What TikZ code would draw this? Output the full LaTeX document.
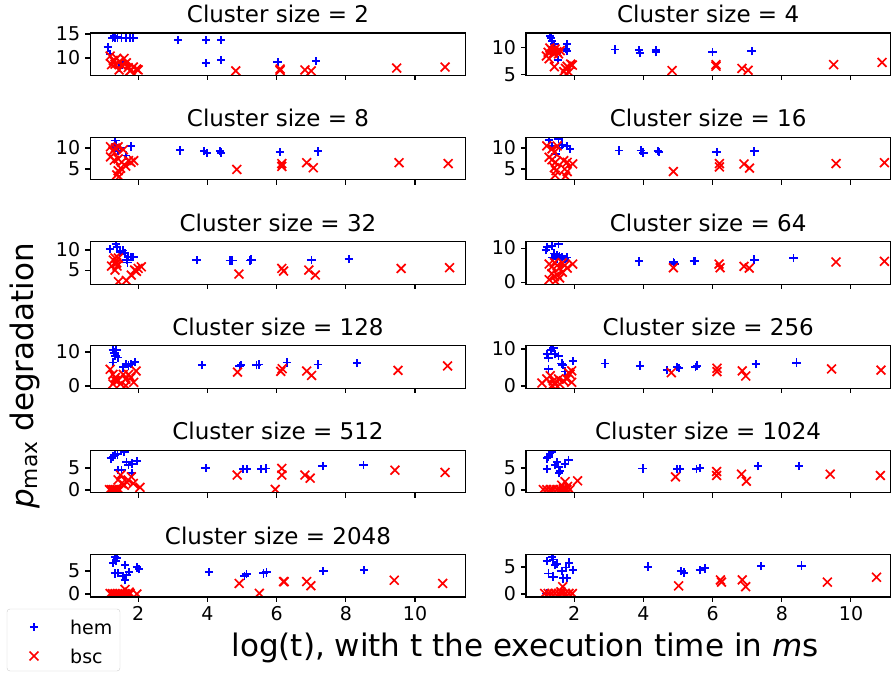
\documentclass[tikz,border=0pt]{standalone}
\usepackage{fontspec}
\setmainfont{DejaVu Sans}
\usetikzlibrary{positioning}
\definecolor{hemblue}{RGB}{0,0,255}
\definecolor{bscred}{RGB}{255,0,0}
\tikzset{
  frame/.style={line width=1.1pt, black},
  hemmark/.style={draw=hemblue, line width=1.8pt},
  bscmark/.style={draw=bscred, line width=1.7pt},
  ticklab/.style={font=\fontsize{19}{22}\selectfont, inner sep=0pt},
  paneltitle/.style={font=\fontsize{23}{26}\selectfont, anchor=base, inner sep=0pt},
  biglab/.style={font=\fontsize{31}{34}\selectfont, inner sep=0pt},
}
% one subplot: left px, top px, xmax, ymin, ymax, cluster size, y ticks, hem points, bsc points
\newcommand{\panel}[9]{%
  \pgfmathsetmacro{\ysc}{42.5/(#5-(#4))}
  \begin{scope}[shift={(#1,{672-#2-42.5})}, x=34.6pt, y=\ysc pt]
  \begin{scope}[shift={(-0.61,{-(#4)})}]
    \begin{scope}
      \clip (0.61,#4) rectangle (#3,#5);
      \path[hemmark] foreach \a/\b in {#8} {
        (\a,\b) +(-4.2pt,0) -- +(4.2pt,0) +(0,-4.2pt) -- +(0,4.2pt)};
      \path[bscmark] foreach \a/\b in {#9} {
        (\a,\b) +(-4.4pt,-4.4pt) -- +(4.4pt,4.4pt) +(-4.4pt,4.4pt) -- +(4.4pt,-4.4pt)};
    \end{scope}
    \draw[frame] (0.61,#4) rectangle (#3,#5);
    \foreach \t in {2,4,...,10} \draw[frame] (\t,#4) -- ++(0,-4.9pt);
    \foreach \t in {#7} \draw[frame] (0.61,\t) -- ++(-4.9pt,0) node[ticklab, left=4.5pt] {\t};
    \if\relax\detokenize{#6}\relax\else
      \node[paneltitle] (title#6) at ({(0.61+#3)/2},#5) [yshift=10.5pt] {Cluster size = #6};
    \fi
  \end{scope}
  \end{scope}}

\begin{document}
\begin{tikzpicture}[x=1pt, y=1pt]
\useasboundingbox (0,0) rectangle (893,672);

\panel{90.1}{33}{11.47}{6.35}{15.2}{2}{10,15}
  {1.12/12.2, 1.19/10.8, 1.26/14.2, 1.30/14.5, 1.33/14.2, 1.40/14.3, 1.45/7.85, 1.52/14.2, 1.55/8.9, 1.65/14.2, 1.76/14.2, 1.86/14.2, 3.15/13.75, 3.96/13.75, 3.96/9.0, 4.4/13.75, 4.4/9.6, 6.03/9.2, 7.14/9.4}
  {1.19/10.4, 1.28/9.5, 1.33/8.7, 1.23/8.6, 1.38/9.9, 1.47/9.3, 1.59/9.9, 1.66/9.0, 1.45/7.5, 1.71/8.0, 1.8/7.5, 1.86/8.1, 1.95/7.7, 2.0/7.5, 1.76/7.3, 1.52/8.5, 4.82/7.3, 6.1/7.7, 6.1/7.4, 6.82/7.5, 7.0/7.3, 9.47/7.9, 10.87/8.1}
\panel{526}{33}{11.14}{4.88}{12.78}{4}{5,10}
  {1.31/12.2, 1.33/11.8, 1.36/11.3, 1.40/10.2, 1.43/10.7, 1.5/9.1, 1.53/7.8, 1.75/9.8, 1.8/10.7, 1.8/9.4, 3.19/9.7, 3.88/9.6, 3.9/9.1, 4.36/9.6, 4.36/9.2, 6.0/9.26, 7.13/9.4}
  {1.2/8.5, 1.25/9.2, 1.3/10.0, 1.35/9.6, 1.4/9.0, 1.45/9.8, 1.5/9.3, 1.55/8.9, 1.6/9.5, 1.28/8.0, 1.43/6.5, 1.7/5.6, 1.75/6.2, 1.8/6.6, 1.85/5.5, 1.9/7.0, 1.95/6.8, 1.78/5.2, 4.83/5.8, 6.1/6.9, 6.1/6.6, 6.85/6.2, 7.03/5.85, 9.5/6.9, 10.9/7.3}

\panel{90.1}{137.3}{11.47}{2.43}{12.55}{8}{5,10}
  {1.34/11.8, 1.37/10.7, 1.27/10.3, 1.49/10.0, 1.79/10.4, 1.64/8.2, 1.42/9.3, 3.21/9.45, 3.91/9.3, 3.99/8.8, 4.37/9.3, 4.4/8.9, 6.09/9.05, 7.19/9.2}
  {1.2/10.3, 1.27/9.3, 1.34/10.0, 1.42/10.3, 1.57/9.6, 1.2/7.9, 1.31/7.1, 1.42/7.4, 1.52/6.6, 1.72/7.0, 1.79/6.6, 1.87/7.0, 1.64/5.7, 1.49/5.2, 1.42/4.6, 1.38/3.6, 1.45/3.2, 4.85/4.9, 6.15/6.3, 6.15/5.6, 6.87/6.5, 7.06/5.3, 9.54/6.5, 10.96/6.3}
\panel{526}{137.3}{11.14}{2.43}{12.55}{16}{5,10}
  {1.28/12.0, 1.55/12.2, 1.36/10.5, 1.58/10.1, 1.8/10.5, 1.88/9.8, 1.46/8.6, 1.66/10.8, 3.3/9.4, 3.93/9.4, 4.0/8.9, 4.42/9.3, 4.45/9.1, 6.12/9.1, 7.21/9.2}
  {1.21/10.5, 1.36/9.8, 1.43/9.0, 1.51/10.5, 1.28/7.8, 1.36/7.2, 1.46/6.6, 1.7/7.0, 1.8/6.6, 1.96/6.2, 1.43/5.3, 1.48/4.6, 1.73/5.0, 1.8/4.4, 1.45/3.5, 1.75/3.3, 4.87/4.4, 6.2/6.3, 6.2/5.5, 6.91/6.2, 7.07/5.2, 9.57/6.3, 10.97/6.5}

\panel{90.1}{241.6}{11.47}{1.5}{12.1}{32}{5,10}
  {1.19/10.2, 1.38/10.8, 1.35/11.5, 1.55/9.9, 1.47/9.6, 1.62/9.25, 1.66/7.6, 1.71/8.2, 1.8/8.3, 1.86/8.2, 1.69/6.9, 3.69/7.5, 4.65/7.4, 4.72/7.4, 5.23/7.4, 5.27/7.6, 7.01/7.5, 8.09/7.75}
  {1.28/7.5, 1.33/8.0, 1.38/6.8, 1.23/6.0, 1.33/5.0, 1.43/8.0, 1.39/6.0, 1.43/2.1, 1.66/2.4, 1.8/3.75, 1.9/5.0, 1.95/4.7, 2.0/5.4, 2.09/5.8, 4.91/4.0, 6.15/5.4, 6.2/4.75, 6.93/5.0, 7.12/3.75, 9.6/5.4, 11.0/5.6}
\panel{526}{241.6}{11.14}{-0.6}{11.9}{64}{0,10}
  {1.18/9.4, 1.22/10.2, 1.36/10.6, 1.55/11.2, 1.43/8.4, 1.51/8.0, 1.58/7.6, 1.66/7.4, 1.8/7.2, 1.36/7.2, 1.51/6.8, 1.73/6.8, 3.87/6.1, 4.87/5.9, 4.9/5.4, 5.46/6.2, 5.5/6.2, 7.21/6.6, 8.34/7.1}
  {1.28/5.3, 1.36/4.5, 1.43/5.7, 1.51/4.9, 1.58/4.1, 1.66/5.7, 1.73/4.9, 1.96/5.3, 1.36/2.5, 1.43/1.6, 1.51/2.1, 1.58/1.2, 1.46/0.3, 1.66/2.9, 1.28/0.7, 1.8/4.1, 4.87/4.2, 6.19/5.3, 6.22/4.2, 6.91/4.6, 7.06/4.1, 9.57/5.9, 10.97/6.1}

\panel{90.1}{345.9}{11.47}{-0.7}{11.8}{128}{0,10}
  {1.27/10.7, 1.31/9.8, 1.37/10.5, 1.34/8.9, 1.42/8.4, 1.27/6.9, 1.64/6.4, 1.72/6.0, 1.91/7.1, 1.79/6.5, 1.57/5.5, 3.85/6.1, 4.93/5.8, 4.97/6.1, 5.42/6.1, 5.48/6.3, 6.3/6.9, 7.19/6.3, 8.33/6.8}
  {1.19/4.9, 1.27/3.4, 1.34/2.5, 1.42/1.6, 1.27/0.6, 1.49/0.6, 1.64/2.0, 1.72/3.4, 1.79/2.5, 1.94/4.4, 1.57/3.4, 1.87/1.1, 1.34/1.6, 1.64/0.1, 4.87/4.1, 6.12/4.3, 6.16/5.1, 6.87/4.4, 7.01/3.1, 9.51/4.6, 10.94/5.9}
\panel{526}{345.9}{11.14}{-0.65}{10.84}{256}{0,10}
  {1.21/8.6, 1.33/9.7, 1.4/10.2, 1.45/8.6, 1.26/7.5, 1.55/8.1, 1.64/6.1, 1.67/5.7, 1.74/3.9, 1.96/6.8, 1.26/4.6, 2.9/6.1, 3.91/5.5, 4.69/4.3, 4.98/5.2, 5.04/4.8, 5.51/5.2, 5.56/5.5, 7.25/5.9, 8.43/6.3}
  {1.07/0.8, 1.21/1.9, 1.31/2.8, 1.4/1.4, 1.45/0.5, 1.55/1.9, 1.59/0.5, 1.69/1.4, 1.79/1.9, 1.88/3.2, 1.93/1.0, 1.84/3.6, 1.93/4.1, 1.36/0.1, 4.81/3.6, 6.13/4.8, 6.13/3.9, 6.86/4.1, 6.96/2.7, 9.44/4.6, 10.87/4.3}

\panel{90.1}{450.2}{11.47}{-0.61}{9.05}{512}{0,5}
  {1.21/7.2, 1.28/7.6, 1.33/7.95, 1.4/8.1, 1.6/8.6, 1.66/6.4, 1.72/5.7, 1.82/6.0, 1.96/6.6, 1.42/4.55, 1.52/4.55, 1.81/3.8, 3.95/5.07, 5.04/4.8, 5.14/4.8, 5.56/4.8, 5.7/4.9, 7.33/5.5, 8.51/5.7}
  {1.17/0.1, 1.23/0.1, 1.28/0.1, 1.33/0.1, 1.38/0.1, 1.45/0.1, 1.49/3.4, 1.6/1.1, 1.71/2.3, 1.8/3.0, 1.86/1.5, 1.66/1.9, 2.05/0.6, 1.52/1.5, 1.42/2.3, 4.86/3.4, 5.96/0.15, 6.15/4.9, 6.15/3.4, 6.82/3.4, 6.97/2.7, 9.42/4.5, 10.87/4.0}
\panel{526}{450.2}{11.14}{-0.61}{9.05}{1024}{0,5}
  {1.21/4.8, 1.21/7.2, 1.31/8.3, 1.36/8.6, 1.26/7.5, 1.5/6.3, 1.55/5.3, 1.57/3.8, 1.59/4.3, 1.74/6.0, 1.84/6.8, 1.45/5.7, 3.98/4.9, 4.98/4.8, 5.05/4.8, 5.54/4.8, 5.64/5.0, 7.32/5.5, 8.5/5.5}
  {1.11/0.1, 1.21/0.1, 1.31/0.1, 1.4/0.1, 1.5/0.1, 1.59/0.1, 1.69/0.3, 1.79/0.1, 1.88/0.1, 1.64/1.1, 1.74/1.9, 1.81/0.8, 2.1/2.1, 4.93/3.0, 6.12/4.2, 6.12/3.3, 6.84/3.6, 6.98/2.0, 9.4/3.6, 10.85/3.3}

\panel{90.1}{554.5}{11.47}{-0.65}{8.59}{2048}{0,5}
  {1.33/8.0, 1.36/7.2, 1.28/6.8, 1.38/7.8, 1.33/4.5, 1.42/4.6, 1.62/6.3, 1.55/3.9, 1.62/3.0, 1.66/4.1, 1.74/4.8, 1.96/5.8, 2.03/5.4, 4.05/4.85, 5.07/3.9, 5.13/4.3, 5.62/4.5, 5.71/4.7, 7.35/5.0, 8.53/5.2}
  {1.19/0.1, 1.26/0.1, 1.33/0.1, 1.4/0.1, 1.47/0.1, 1.55/0.1, 1.62/0.1, 1.7/0.1, 1.77/0.1, 1.62/1.0, 1.96/0.0, 1.74/0.4, 4.92/2.3, 5.5/0.15, 6.2/2.7, 6.22/2.7, 6.87/2.7, 6.99/1.8, 9.4/3.0, 10.8/2.3}
\panel{526}{554.5}{11.14}{-0.56}{7.31}{}{0,5}
  {1.2/0.1, 1.21/6.1, 1.36/6.9, 1.4/6.4, 1.26/3.8, 1.45/5.4, 1.5/5.6, 1.4/3.2, 1.64/4.3, 1.69/2.9, 1.76/4.9, 1.86/5.8, 1.96/4.4, 1.79/3.0, 4.13/5.06, 5.1/4.26, 5.17/3.95, 5.63/4.4, 5.78/4.75, 7.41/5.2, 8.57/5.25}
  {1.15/0.1, 1.25/0.1, 1.35/0.1, 1.45/0.1, 1.55/0.1, 1.65/0.1, 1.75/0.1, 1.85/0.1, 1.95/0.1, 1.67/1.35, 1.62/0.4, 5.02/1.5, 6.23/2.6, 6.26/2.2, 6.86/2.6, 6.96/1.35, 9.32/2.2, 10.74/3.1}

% x tick labels of the bottom row
\foreach \t in {2,4,...,10} {
  \node[ticklab, anchor=north] at ({69+34.6*\t},66) {\t};
  \node[ticklab, anchor=north] at ({505+34.6*\t},66) {\t};
}

% axis labels
\node[biglab] (xlabel) at (525,24) {log(t), with t the execution time in \textit{m}s};
\node[biglab, rotate=90] (ylabel) at (25,296) {\textit{p}\textsubscript{max} degradation};

% legend
\draw[black!20, fill=white, rounded corners=3pt] (7,1) rectangle (120,63);
\path[hemmark] (34,45) +(-4.2pt,0) -- +(4.2pt,0) +(0,-4.2pt) -- +(0,4.2pt);
\path[bscmark] (34,16) +(-4.4pt,-4.4pt) -- +(4.4pt,4.4pt) +(-4.4pt,4.4pt) -- +(4.4pt,-4.4pt);
\node[ticklab, anchor=west] (lhem) at (70,45) {hem};
\node[ticklab, anchor=west] (lbsc) at (70,16) {bsc};
\end{tikzpicture}
\end{document}
